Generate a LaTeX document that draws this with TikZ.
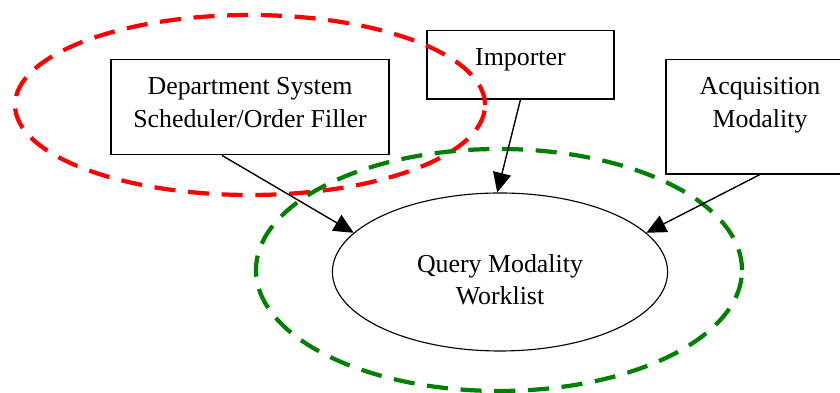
\documentclass[tikz,border=0pt]{standalone}
\usepackage{fontspec}
\setmainfont{Liberation Serif}
\usepackage{tikz}
\usetikzlibrary{positioning, arrows.meta, shapes.geometric}

\begin{document}
\begin{tikzpicture}[
  font=\fontsize{9.2}{11.4}\selectfont,
  actorbox/.style={draw, anchor=north, align=center, inner ysep=6.5pt, inner xsep=0pt},
  txnellipse/.style={draw, ellipse, align=center, minimum width=4.19cm, minimum height=1.975cm},
  arrow/.style={-{Triangle[length=7pt, width=6.5pt]}, line width=0.5pt},
  group/.style={line width=1.5pt, dash pattern=on 7.5pt off 4.5pt},
]
  \useasboundingbox (0,0) rectangle (10.5,4.9125);

  % Actors
  \node (dss) [actorbox, minimum width=3.475cm, text depth=3.4pt] at (3.125,4.175) {Department System\\Scheduler/Order Filler};
  \node (importer) [actorbox, minimum width=2.3375cm, text depth=5.4pt] at (6.506,4.54) {Importer};
  \node (modality) [actorbox, minimum width=2.35cm, text depth=10.2pt] at (9.5,4.175) {Acquisition\\Modality};

  % Transaction
  \node (worklist) [txnellipse, text height=23pt] at (6.25,1.5125) {Query Modality\\Worklist};

  % Grouped actors
  \draw [group, red] (3.125,3.6) ellipse [x radius=2.9375cm, y radius=1.125cm];
  \draw [group, green!50!black] (6.2375,1.5375) ellipse [x radius=3.0375cm, y radius=1.5125cm];

  % Connect actors to the transaction
  \draw [arrow] ([xshift=-0.35cm]dss.south) -- (worklist.165);
  \draw [arrow] (importer.south) -- (worklist.92);
  \draw [arrow] (modality.south) -- (worklist.15);

\end{tikzpicture}
\end{document}
